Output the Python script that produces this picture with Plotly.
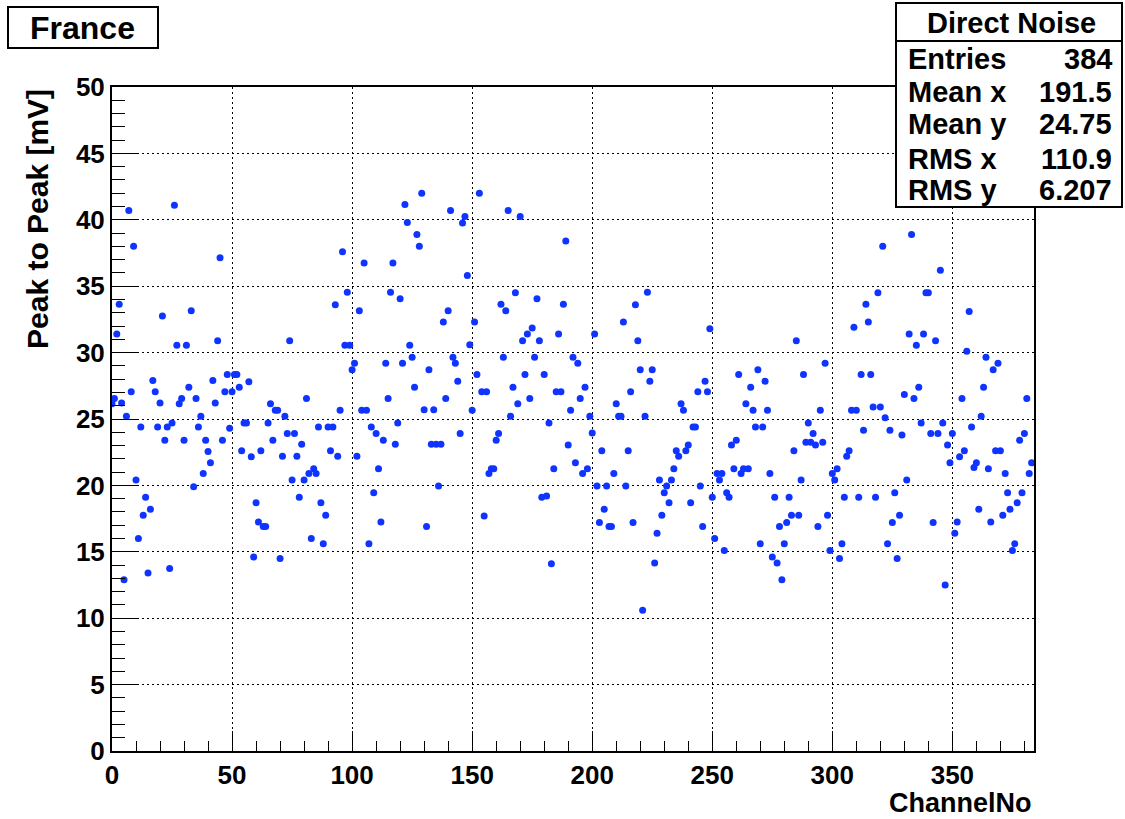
import plotly.graph_objects as go

# ---- data: peak-to-peak noise [mV] per channel ----
vals_000_047 = [26.15, 26.55, 31.4, 33.65, 26.2, 12.9, 25.2, 40.7, 27.05, 38.0,
                20.4, 16.0, 24.4, 17.75, 19.1, 13.4, 18.2, 27.9, 27.05, 24.4,
                26.2, 32.75, 23.4, 24.4, 13.75, 24.7, 41.1, 30.55, 26.15, 26.55,
                23.4, 30.55, 27.4, 33.15, 19.9, 26.55, 24.4, 25.2, 20.9, 23.4,
                22.55, 21.7, 27.9, 26.2, 30.9, 37.15, 23.4, 27.05]
vals_048_095 = [28.35, 24.3, 27.05, 28.35, 28.35, 27.4, 22.6, 24.7, 24.7, 27.8,
                22.15, 14.6, 18.7, 17.25, 22.6, 16.9, 16.9, 24.7, 26.15, 23.4,
                25.65, 25.65, 14.5, 22.2, 25.2, 23.9, 30.9, 20.4, 23.9, 22.2,
                19.1, 23.1, 20.4, 26.55, 20.9, 16.0, 21.25, 20.9, 24.4, 18.7,
                15.6, 17.75, 24.4, 22.6, 24.4, 33.6, 22.2, 25.65]
vals_096_143 = [37.6, 30.55, 34.55, 30.55, 28.7, 29.2, 22.2, 33.15, 25.65, 36.75,
                25.65, 15.6, 24.4, 19.45, 23.9, 21.25, 17.25, 23.4, 29.2, 26.55,
                34.55, 36.75, 23.1, 24.7, 34.05, 29.2, 41.15, 39.8, 30.55, 29.65,
                27.4, 38.9, 38.0, 42.0, 25.7, 16.9, 28.7, 23.1, 25.7, 23.1,
                19.95, 23.1, 32.3, 26.55, 33.15, 40.7, 29.65, 29.2]
vals_144_191 = [27.85, 23.9, 39.75, 40.25, 35.8, 30.6, 25.65, 32.3, 28.35, 42.0,
                27.05, 17.7, 27.05, 20.9, 21.25, 21.25, 23.4, 23.9, 33.65, 29.65,
                33.15, 40.7, 25.2, 27.4, 34.5, 26.15, 40.25, 30.9, 28.35, 31.4,
                26.55, 31.85, 29.65, 34.05, 30.9, 19.1, 28.35, 19.2, 24.7, 14.1,
                21.25, 27.05, 31.4, 27.05, 33.65, 38.4, 23.05, 25.65]
vals_192_239 = [29.65, 21.7, 29.2, 26.55, 20.9, 27.4, 21.25, 25.2, 23.95, 31.4,
                19.95, 17.2, 22.6, 18.2, 19.95, 16.9, 16.9, 20.9, 26.15, 25.2,
                25.2, 32.3, 19.95, 22.6, 27.05, 17.2, 33.6, 30.9, 28.7, 10.6,
                25.2, 34.55, 27.85, 28.7, 14.15, 16.4, 20.4, 17.75, 19.45, 19.95,
                18.7, 20.4, 21.25, 22.6, 22.2, 26.15, 25.65, 22.6]
vals_240_287 = [23.05, 18.7, 24.4, 24.4, 27.05, 19.95, 16.9, 27.85, 27.05, 31.8,
                19.1, 16.0, 20.9, 20.4, 20.9, 15.1, 19.45, 19.1, 23.05, 21.25,
                23.4, 28.35, 20.9, 21.25, 26.15, 21.25, 27.4, 25.65, 24.4, 28.7,
                15.6, 24.4, 27.85, 25.65, 20.9, 14.6, 19.1, 14.15, 16.9, 12.9,
                15.6, 17.2, 19.1, 17.75, 22.6, 30.9, 17.75, 20.4]
vals_288_335 = [28.35, 23.25, 24.7, 23.25, 23.9, 23.05, 16.9, 25.65, 23.25, 29.2,
                17.75, 15.1, 20.9, 20.4, 21.25, 14.5, 15.6, 19.1, 22.2, 22.6,
                25.65, 31.9, 25.65, 19.1, 28.35, 24.15, 33.65, 32.3, 28.35, 25.9,
                19.1, 34.5, 25.9, 38.0, 25.1, 15.6, 24.15, 17.2, 19.45, 14.5,
                17.75, 23.8, 26.85, 20.4, 31.4, 38.9, 26.55, 30.55]
vals_336_383 = [27.4, 24.7, 31.4, 34.5, 34.5, 23.9, 17.2, 30.9, 23.9, 36.2,
                24.7, 12.5, 23.05, 21.7, 23.9, 16.4, 17.25, 22.15, 26.55, 22.6,
                30.1, 33.1, 24.4, 21.35, 21.7, 18.2, 25.2, 27.4, 29.65, 21.25,
                17.25, 28.7, 22.6, 29.2, 22.6, 17.75, 20.9, 19.45, 18.2, 15.1,
                15.6, 18.7, 23.4, 19.45, 23.9, 26.55, 20.9, 21.7]

peak_mV = (vals_000_047 + vals_048_095 + vals_096_143 + vals_144_191 +
           vals_192_239 + vals_240_287 + vals_288_335 + vals_336_383)
channel_no = list(range(len(peak_mV)))

pad_title = "France"
stats_title = "Direct Noise"
stats_labels = ["Entries", "Mean x", "Mean y", "RMS x", "RMS y"]
stats_values = ["384", "191.5", "24.75", "110.9", "6.207"]
x_title = "ChannelNo"
y_title = "Peak to Peak [mV]"

# ---- layout geometry (pixels) ----
W, H = 1125, 819
L, R, T, B = 112, 1034, 87, 751
FONT = "Liberation Sans, Arial, Helvetica, sans-serif"


def fx(p):
    return (p - L) / (R - L)


def fy(p):
    return (B - p) / (B - T)


fig = go.Figure()
fig.add_trace(go.Scatter(
    x=channel_no, y=peak_mV, mode="markers",
    marker=dict(color="#1034ff", size=7, line=dict(width=0)),
    showlegend=False, hoverinfo="x+y"))

axis_common = dict(
    showline=True, linecolor="black", linewidth=2, mirror=True,
    ticks="inside", tickcolor="black", tickwidth=1,
    showgrid=True, gridcolor="black", gridwidth=1, griddash="2px,3px",
    zeroline=False,
    tickfont=dict(family=FONT, size=26, color="black", weight="bold"),
)

fig.update_layout(
    width=W, height=H, autosize=False,
    margin=dict(l=L, r=W - R, t=T, b=H - B, pad=0),
    paper_bgcolor="white", plot_bgcolor="white",
    xaxis=dict(range=[0, 384], tick0=0, dtick=50, ticklen=20,
               minor=dict(dtick=10, ticklen=10, ticks="inside",
                          tickcolor="black", showgrid=False),
               **axis_common),
    yaxis=dict(range=[0, 50], tick0=0, dtick=5, ticklen=26,
               minor=dict(dtick=1, ticklen=13, ticks="inside",
                          tickcolor="black", showgrid=False),
               **axis_common),
)

shapes = []
annotations = []

# pad title box
shapes.append(dict(type="rect", xref="paper", yref="paper",
                   x0=fx(8), x1=fx(158), y0=fy(48), y1=fy(7),
                   line=dict(color="black", width=2), fillcolor="white", layer="above"))
annotations.append(dict(xref="paper", yref="paper", x=fx(82), y=fy(28),
                        text=f"<b>{pad_title}</b>", showarrow=False,
                        xanchor="center", yanchor="middle",
                        font=dict(family=FONT, size=32, color="black")))

# stats box
shapes.append(dict(type="rect", xref="paper", yref="paper",
                   x0=fx(896), x1=fx(1122), y0=fy(207), y1=fy(3),
                   line=dict(color="black", width=2), fillcolor="white", layer="above"))
shapes.append(dict(type="line", xref="paper", yref="paper",
                   x0=fx(896), x1=fx(1122), y0=fy(41), y1=fy(41),
                   line=dict(color="black", width=2), layer="above"))
annotations.append(dict(xref="paper", yref="paper", x=fx(1011), y=fy(23),
                        text=f"<b>{stats_title}</b>", showarrow=False,
                        xanchor="center", yanchor="middle",
                        font=dict(family=FONT, size=29, color="black")))
row_y = [59, 92, 124, 159, 190]
for lab, val, yy in zip(stats_labels, stats_values, row_y):
    annotations.append(dict(xref="paper", yref="paper", x=fx(906), y=fy(yy),
                            text=f"<b>{lab}</b>", showarrow=False,
                            xanchor="left", yanchor="middle",
                            font=dict(family=FONT, size=29, color="black")))
    annotations.append(dict(xref="paper", yref="paper", x=fx(1114), y=fy(yy),
                            text=f"<b>{val}</b>", showarrow=False,
                            xanchor="right", yanchor="middle",
                            font=dict(family=FONT, size=29, color="black")))

# axis titles
annotations.append(dict(xref="paper", yref="paper", x=fx(1033), y=fy(803),
                        text=f"<b>{x_title}</b>", showarrow=False,
                        xanchor="right", yanchor="middle", borderpad=0,
                        font=dict(family=FONT, size=27, color="black")))
annotations.append(dict(xref="paper", yref="paper", x=fx(37), y=fy(87),
                        text=f"<b>{y_title}</b>", showarrow=False, textangle=-90,
                        xanchor="center", yanchor="top",
                        font=dict(family=FONT, size=30, color="black")))

fig.update_layout(shapes=shapes, annotations=annotations)
fig.write_html("out.html", config={"displayModeBar": False},
               post_script="document.body.style.margin='0';document.body.style.padding='0';")
